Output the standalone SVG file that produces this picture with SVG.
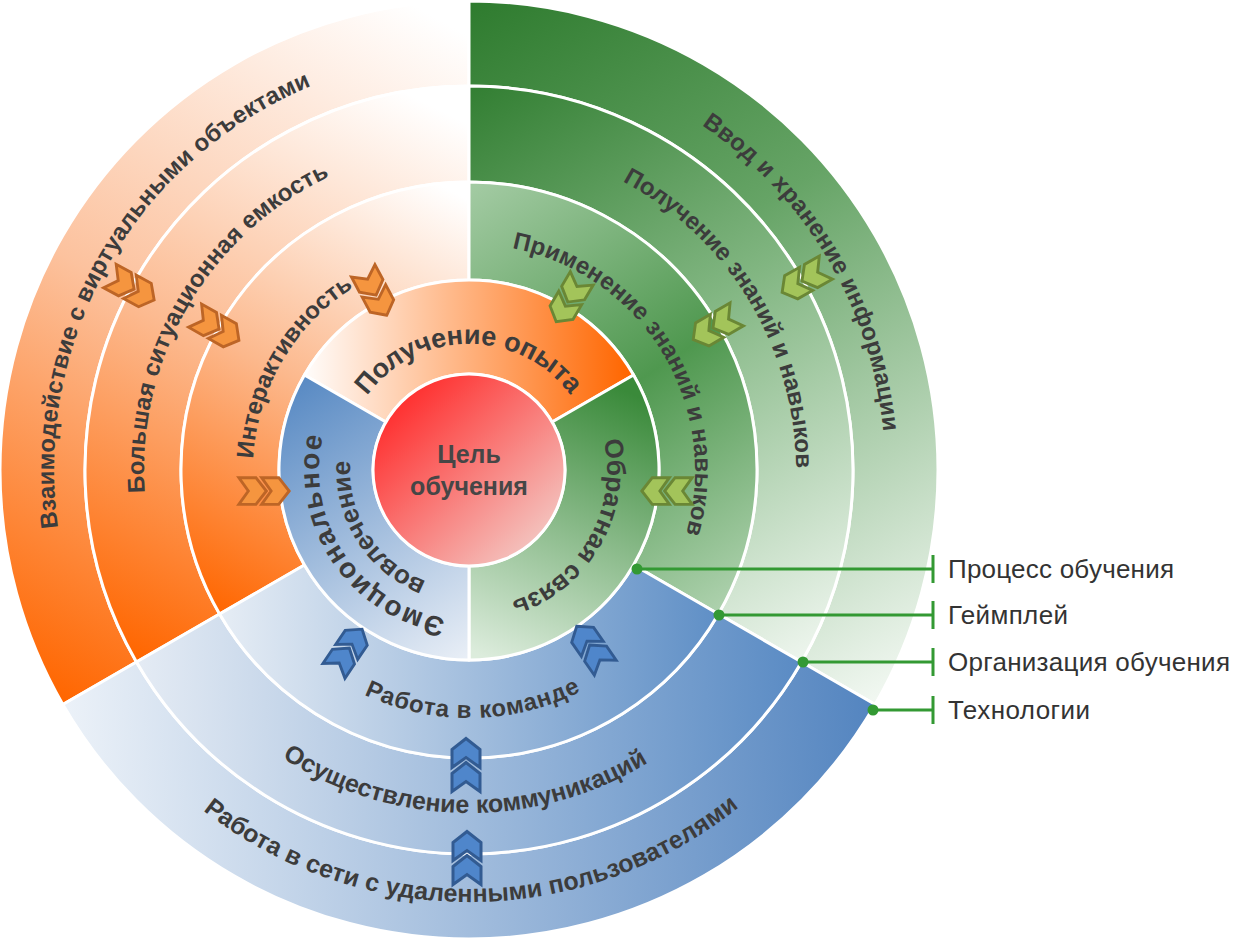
<svg xmlns="http://www.w3.org/2000/svg" width="1252" height="938" viewBox="0 0 1252 938">
<defs>
  <linearGradient id="gO4" gradientUnits="userSpaceOnUse" x1="440" y1="20" x2="60" y2="700"><stop offset="0" stop-color="#ffffff"/><stop offset="0.5" stop-color="#fcc29e"/><stop offset="1" stop-color="#ff6600"/></linearGradient>
  <linearGradient id="gO3" gradientUnits="userSpaceOnUse" x1="420" y1="100" x2="140" y2="660"><stop offset="0" stop-color="#ffffff"/><stop offset="0.5" stop-color="#fcba90"/><stop offset="1" stop-color="#ff6600"/></linearGradient>
  <linearGradient id="gO2" gradientUnits="userSpaceOnUse" x1="450" y1="190" x2="220" y2="615"><stop offset="0" stop-color="#ffffff"/><stop offset="0.5" stop-color="#fcb88c"/><stop offset="1" stop-color="#ff6600"/></linearGradient>
  <linearGradient id="gO1" gradientUnits="userSpaceOnUse" x1="300" y1="380" x2="630" y2="380"><stop offset="0" stop-color="#ffffff"/><stop offset="1" stop-color="#ff6600"/></linearGradient>
  <linearGradient id="gG4" gradientUnits="userSpaceOnUse" x1="470" y1="0" x2="880" y2="700"><stop offset="0" stop-color="#2e7b2e"/><stop offset="0.4" stop-color="#66a466"/><stop offset="1" stop-color="#f2f8f2"/></linearGradient>
  <linearGradient id="gG3" gradientUnits="userSpaceOnUse" x1="470" y1="90" x2="800" y2="660"><stop offset="0" stop-color="#337f33"/><stop offset="0.45" stop-color="#80b580"/><stop offset="1" stop-color="#edf5ed"/></linearGradient>
  <linearGradient id="gG2" gradientUnits="userSpaceOnUse" x1="470" y1="190" x2="750" y2="610"><stop offset="0" stop-color="#a2caa2"/><stop offset="0.5" stop-color="#4f984f"/><stop offset="1" stop-color="#b4d5b4"/></linearGradient>
  <linearGradient id="gG1" gradientUnits="userSpaceOnUse" x1="600" y1="380" x2="480" y2="655"><stop offset="0" stop-color="#3a8a3a"/><stop offset="1" stop-color="#dcecdc"/></linearGradient>
  <linearGradient id="gB4" gradientUnits="userSpaceOnUse" x1="70" y1="740" x2="870" y2="690"><stop offset="0" stop-color="#ebf1f8"/><stop offset="1" stop-color="#5485c0"/></linearGradient>
  <linearGradient id="gB3" gradientUnits="userSpaceOnUse" x1="140" y1="670" x2="800" y2="650"><stop offset="0" stop-color="#e4ebf4"/><stop offset="1" stop-color="#5a8bc4"/></linearGradient>
  <linearGradient id="gB2" gradientUnits="userSpaceOnUse" x1="220" y1="620" x2="718" y2="610"><stop offset="0" stop-color="#e6edf5"/><stop offset="1" stop-color="#5f8fc6"/></linearGradient>
  <linearGradient id="gB1" gradientUnits="userSpaceOnUse" x1="300" y1="385" x2="470" y2="655"><stop offset="0" stop-color="#5a8bc4"/><stop offset="1" stop-color="#e8eef6"/></linearGradient>
  <linearGradient id="gC" gradientUnits="userSpaceOnUse" x1="395" y1="395" x2="545" y2="550"><stop offset="0" stop-color="#ff2a2a"/><stop offset="1" stop-color="#f3cbc6"/></linearGradient>

  <g id="chev">
    <path d="M0,-2.5 L14,8.5 L14,26.5 L0,16.5 L-14,26.5 L-14,8.5 Z"/>
    <path d="M0,-26.5 L14,-15.5 L14,2.5 L0,-7.5 L-14,2.5 L-14,-15.5 Z"/>
  </g>

  <path id="p1" d="M 367.06 395.94 A 126 126 0 0 1 570.94 395.94"/>
  <path id="p2" d="M 445.53 618.16 A 150 150 0 0 1 325.55 426.14"/>
  <path id="p3" d="M 426.35 581.10 A 119 119 0 0 1 350.29 461.70"/>
  <path id="p4" d="M 603.73 440.13 A 138 138 0 0 1 509.35 601.97"/>
  <path id="p5" d="M 253.30 458.70 A 216 216 0 0 1 354.54 286.83"/>
  <path id="p6" d="M 512.12 248.16 A 226 226 0 0 1 685.12 536.08"/>
  <path id="p7" d="M 364.19 694.76 A 248 248 0 0 0 581.59 690.97"/>
  <path id="p8" d="M 144.79 492.67 A 325 325 0 0 1 331.65 175.45"/>
  <path id="p9" d="M 622.53 181.29 A 327 327 0 0 1 796 470"/>
  <path id="p10" d="M 282.20 757.67 A 343 343 0 0 0 650.76 760.86"/>
  <path id="p11" d="M 58.03 527.76 A 415 415 0 0 1 313.54 85.22"/>
  <path id="p12" d="M 701.63 125.14 A 416 416 0 0 1 883.42 433.74"/>
  <path id="p13" d="M 203.02 810.42 A 432 432 0 0 0 740.86 805.71"/>
</defs>
<style>
  .seg{stroke:#ffffff;stroke-width:3;stroke-linejoin:round}
  .lbl{font-family:"Liberation Sans",Arial,sans-serif;font-weight:bold;font-size:24px;fill:#3c3c3c}
  .big{font-size:26px}
  .mid{font-size:25px}
  .xl{font-size:27px}
  .xxl{font-size:28px}
  .ctr{font-family:"Liberation Sans",Arial,sans-serif;font-weight:bold;font-size:25px;fill:#464646}
  .leg{font-family:"Liberation Sans",Arial,sans-serif;font-size:26px;fill:#333333}
  .co{fill:#f5953f;stroke:#bd6526;stroke-width:3;stroke-linejoin:miter}
  .cg{fill:#a3c45a;stroke:#6a8735;stroke-width:3;stroke-linejoin:miter}
  .cb{fill:#4f86cb;stroke:#325b92;stroke-width:3;stroke-linejoin:miter}
  .cl{stroke:#339933;stroke-width:3;fill:none}
  .dot{fill:#339933}
</style>

<!-- Outer ring: Технологии -->
<g id="tech-orange">
  <path class="seg" fill="url(#gO4)" d="M 62.83 704.5 A 469 469 0 0 1 469 1 L 469 86 A 384 384 0 0 0 136.45 662 Z"/>
  <text class="lbl"><textPath href="#p11" textLength="548" lengthAdjust="spacing">Взаимодействие с виртуальными объектами</textPath></text>
</g>
<g id="tech-green">
  <path class="seg" fill="url(#gG4)" d="M 469 1 A 469 469 0 0 1 875.17 704.5 L 801.55 662 A 384 384 0 0 0 469 86 Z"/>
  <text class="lbl"><textPath href="#p12" textLength="368" lengthAdjust="spacing">Ввод и хранение информации</textPath></text>
</g>
<g id="tech-blue">
  <path class="seg" fill="url(#gB4)" d="M 875.17 704.5 A 469 469 0 0 1 62.83 704.5 L 136.45 662 A 384 384 0 0 0 801.55 662 Z"/>
  <text class="lbl mid"><textPath href="#p13" textLength="578" lengthAdjust="spacing">Работа в сети с удаленными пользователями</textPath></text>
</g>

<!-- Ring 3: Организация обучения -->
<g id="org-orange">
  <path class="seg" fill="url(#gO3)" d="M 136.45 662 A 384 384 0 0 1 469 86 L 469 182 A 288 288 0 0 0 219.59 614 Z"/>
  <text class="lbl"><textPath href="#p8" textLength="389" lengthAdjust="spacing">Большая ситуационная емкость</textPath></text>
</g>
<g id="org-green">
  <path class="seg" fill="url(#gG3)" d="M 469 86 A 384 384 0 0 1 801.55 662 L 718.41 614 A 288 288 0 0 0 469 182 Z"/>
  <text class="lbl"><textPath href="#p9" textLength="352" lengthAdjust="spacing">Получение знаний и навыков</textPath></text>
</g>
<g id="org-blue">
  <path class="seg" fill="url(#gB3)" d="M 801.55 662 A 384 384 0 0 1 136.45 662 L 219.59 614 A 288 288 0 0 0 718.41 614 Z"/>
  <text class="lbl mid"><textPath href="#p10" textLength="386" lengthAdjust="spacing">Осуществление коммуникаций</textPath></text>
</g>

<!-- Ring 2: Геймплей -->
<g id="game-orange">
  <path class="seg" fill="url(#gO2)" d="M 219.59 614 A 288 288 0 0 1 469 182 L 469 280 A 190 190 0 0 0 304.46 565 Z"/>
  <text class="lbl"><textPath href="#p5" textLength="206" lengthAdjust="spacing">Интерактивность</textPath></text>
</g>
<g id="game-green">
  <path class="seg" fill="url(#gG2)" d="M 469 182 A 288 288 0 0 1 718.41 614 L 633.54 565 A 190 190 0 0 0 469 280 Z"/>
  <text class="lbl"><textPath href="#p6" textLength="376" lengthAdjust="spacing">Применение знаний и навыков</textPath></text>
</g>
<g id="game-blue">
  <path class="seg" fill="url(#gB2)" d="M 718.41 614 A 288 288 0 0 1 219.59 614 L 304.46 565 A 190 190 0 0 0 633.54 565 Z"/>
  <text class="lbl"><textPath href="#p7" textLength="224" lengthAdjust="spacing">Работа в команде</textPath></text>
</g>

<!-- Ring 1: Процесс обучения -->
<g id="proc-orange">
  <path class="seg" fill="url(#gO1)" d="M 304.46 375 A 190 190 0 0 1 633.54 375 L 552.14 422 A 96 96 0 0 0 385.86 422 Z"/>
  <text class="lbl xl"><textPath href="#p1" textLength="236" lengthAdjust="spacing">Получение опыта</textPath></text>
</g>
<g id="proc-green">
  <path class="seg" fill="url(#gG1)" d="M 633.54 375 A 190 190 0 0 1 469 660 L 469 566 A 96 96 0 0 0 552.14 422 Z"/>
  <text class="lbl big"><textPath href="#p4" textLength="204" lengthAdjust="spacing">Обратная связь</textPath></text>
</g>
<g id="proc-blue">
  <path class="seg" fill="url(#gB1)" d="M 469 660 A 190 190 0 0 1 304.46 375 L 385.86 422 A 96 96 0 0 0 469 566 Z"/>
  <text class="lbl xxl"><textPath href="#p2" textLength="246" lengthAdjust="spacing">Эмоциональное</textPath></text>
  <text class="lbl big"><textPath href="#p3" textLength="152" lengthAdjust="spacing">вовлечение</textPath></text>
</g>

<!-- Center -->
<g id="goal">
  <circle cx="469" cy="470" r="96" fill="url(#gC)" stroke="#ffffff" stroke-width="3"/>
  <text class="ctr" x="469" y="463" text-anchor="middle">Цель</text>
  <text class="ctr" x="469" y="495" text-anchor="middle">обучения</text>
</g>

<!-- Chevrons -->
<g id="arrows">
  <use href="#chev" class="co" transform="translate(132,288) rotate(118.4) scale(0.95)"/>
  <use href="#chev" class="co" transform="translate(217,328) rotate(119.4) scale(0.95)"/>
  <use href="#chev" class="co" transform="translate(375,293) rotate(152) scale(0.95)"/>
  <use href="#chev" class="co" transform="translate(264,491) rotate(90) scale(0.95)"/>
  <use href="#chev" class="cg" transform="translate(804,280) rotate(240.4) scale(0.95)"/>
  <use href="#chev" class="cg" transform="translate(715,327) rotate(239.8) scale(0.95)"/>
  <use href="#chev" class="cg" transform="translate(569,300) rotate(210.5) scale(0.95)"/>
  <use href="#chev" class="cg" transform="translate(667,491) rotate(270) scale(0.95)"/>
  <use href="#chev" class="cb" transform="translate(348,650) rotate(34) scale(0.95)"/>
  <use href="#chev" class="cb" transform="translate(591,647) rotate(-34.6) scale(0.95)"/>
  <use href="#chev" class="cb" transform="translate(466,765)"/>
  <use href="#chev" class="cb" transform="translate(467,858)"/>
</g>

<!-- Connectors -->
<g id="connectors">
  <path class="cl" d="M 637 569 H 933 M 933 555 V 583"/>
  <path class="cl" d="M 719 615 H 933 M 933 601 V 629"/>
  <path class="cl" d="M 803 662 H 933 M 933 648 V 676"/>
  <path class="cl" d="M 873 710 H 933 M 933 696 V 724"/>
  <circle class="dot" cx="637" cy="569" r="5.5"/>
  <circle class="dot" cx="719" cy="615" r="5.5"/>
  <circle class="dot" cx="803" cy="662" r="5.5"/>
  <circle class="dot" cx="873" cy="710" r="5.5"/>
</g>

<g id="legend-process"><text class="leg" x="948" y="578" textLength="226" lengthAdjust="spacing">Процесс обучения</text></g>
<g id="legend-gameplay"><text class="leg" x="948" y="624" textLength="120" lengthAdjust="spacing">Геймплей</text></g>
<g id="legend-org"><text class="leg" x="948" y="671" textLength="282" lengthAdjust="spacing">Организация обучения</text></g>
<g id="legend-tech"><text class="leg" x="948" y="719" textLength="142" lengthAdjust="spacing">Технологии</text></g>
</svg>
